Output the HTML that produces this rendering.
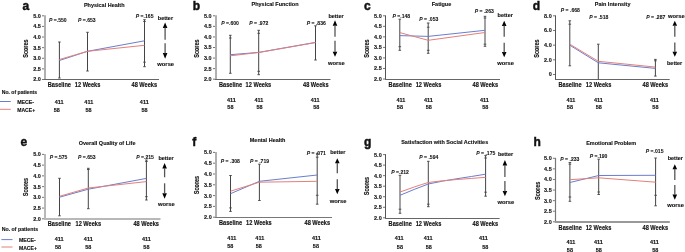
<!DOCTYPE html>
<html><head><meta charset="utf-8"><style>
html,body{margin:0;padding:0;background:#fff;width:685px;height:252px;overflow:hidden}
svg{display:block}
text{font-family:"Liberation Sans",sans-serif;fill:#111;stroke:#111;stroke-width:0.12px}
svg{will-change:transform}
</style></head><body>
<svg width="685" height="252" viewBox="0 0 685 252">
<rect width="685" height="252" fill="#fff"/>
<line x1="45.00" y1="15.30" x2="45.00" y2="80.00" stroke="#b0b0b0" stroke-width="2" />
<line x1="44.00" y1="79.50" x2="159.00" y2="79.50" stroke="#666" stroke-width="1" />
<line x1="42.00" y1="15.80" x2="44.00" y2="15.80" stroke="#666" stroke-width="0.9" />
<text transform="translate(40.90,17.70) scale(1,1.12)" font-size="5.5" text-anchor="end" font-weight="bold" font-style="normal" >5.0</text>
<line x1="42.00" y1="26.42" x2="44.00" y2="26.42" stroke="#666" stroke-width="0.9" />
<text transform="translate(40.90,28.32) scale(1,1.12)" font-size="5.5" text-anchor="end" font-weight="bold" font-style="normal" >4.5</text>
<line x1="42.00" y1="37.03" x2="44.00" y2="37.03" stroke="#666" stroke-width="0.9" />
<text transform="translate(40.90,38.93) scale(1,1.12)" font-size="5.5" text-anchor="end" font-weight="bold" font-style="normal" >4.0</text>
<line x1="42.00" y1="47.65" x2="44.00" y2="47.65" stroke="#666" stroke-width="0.9" />
<text transform="translate(40.90,49.55) scale(1,1.12)" font-size="5.5" text-anchor="end" font-weight="bold" font-style="normal" >3.5</text>
<line x1="42.00" y1="58.27" x2="44.00" y2="58.27" stroke="#666" stroke-width="0.9" />
<text transform="translate(40.90,60.17) scale(1,1.12)" font-size="5.5" text-anchor="end" font-weight="bold" font-style="normal" >3.0</text>
<line x1="42.00" y1="68.88" x2="44.00" y2="68.88" stroke="#666" stroke-width="0.9" />
<text transform="translate(40.90,70.78) scale(1,1.12)" font-size="5.5" text-anchor="end" font-weight="bold" font-style="normal" >2.5</text>
<line x1="42.00" y1="79.50" x2="44.00" y2="79.50" stroke="#666" stroke-width="0.9" />
<text transform="translate(40.90,81.40) scale(1,1.12)" font-size="5.5" text-anchor="end" font-weight="bold" font-style="normal" >2.0</text>
<text transform="translate(28.10,48.60) rotate(-90) scale(1,1.25)" font-size="5.5" text-anchor="middle" font-weight="bold" font-style="normal" >Scores</text>
<text transform="translate(104.20,7.40) scale(1,1.12)" font-size="5.5" text-anchor="middle" font-weight="bold" font-style="normal" >Physical Health</text>
<text transform="translate(22.50,9.80) scale(1,1.0)" font-size="12" text-anchor="start" font-weight="bold" font-style="normal" style="stroke-width:0.45px">a</text>
<line x1="59.40" y1="42.00" x2="59.40" y2="78.00" stroke="#444" stroke-width="1.0" />
<line x1="58.10" y1="42.00" x2="60.70" y2="42.00" stroke="#444" stroke-width="0.9" />
<line x1="58.10" y1="78.00" x2="60.70" y2="78.00" stroke="#444" stroke-width="0.9" />
<line x1="87.50" y1="32.30" x2="87.50" y2="71.00" stroke="#444" stroke-width="1.0" />
<line x1="86.20" y1="32.30" x2="88.80" y2="32.30" stroke="#444" stroke-width="0.9" />
<line x1="86.20" y1="71.00" x2="88.80" y2="71.00" stroke="#444" stroke-width="0.9" />
<line x1="144.50" y1="19.70" x2="144.50" y2="66.70" stroke="#444" stroke-width="1.0" />
<line x1="143.20" y1="19.70" x2="145.80" y2="19.70" stroke="#444" stroke-width="0.9" />
<line x1="143.20" y1="21.50" x2="145.80" y2="21.50" stroke="#444" stroke-width="0.9" />
<line x1="143.20" y1="62.20" x2="145.80" y2="62.20" stroke="#444" stroke-width="0.9" />
<line x1="143.20" y1="66.70" x2="145.80" y2="66.70" stroke="#444" stroke-width="0.9" />
<polyline points="59.40,60.50 87.50,51.30 144.50,40.80" fill="none" stroke="#6a7ecf" stroke-width="1.0" stroke-linejoin="round"/>
<polyline points="59.40,59.50 87.50,51.30 144.50,45.30" fill="none" stroke="#e4807a" stroke-width="1.0" stroke-linejoin="round"/>
<text transform="translate(49.00,22.10) scale(1,1.12)" font-size="5.1" text-anchor="start" font-weight="bold" font-style="normal" style="stroke-width:0.06px"><tspan font-style="italic">P</tspan> =.550</text>
<text transform="translate(78.00,22.30) scale(1,1.12)" font-size="5.1" text-anchor="start" font-weight="bold" font-style="normal" style="stroke-width:0.06px"><tspan font-style="italic">P</tspan> =.653</text>
<text transform="translate(135.80,18.10) scale(1,1.12)" font-size="5.1" text-anchor="start" font-weight="bold" font-style="normal" style="stroke-width:0.06px"><tspan font-style="italic">P</tspan> =.165</text>
<text transform="translate(47.80,86.90) scale(1,1.12)" font-size="5.65" text-anchor="start" font-weight="bold" font-style="normal" >Baseline</text>
<text transform="translate(74.80,86.90) scale(1,1.12)" font-size="5.65" text-anchor="start" font-weight="bold" font-style="normal" >12 Weeks</text>
<text transform="translate(131.50,86.90) scale(1,1.12)" font-size="5.65" text-anchor="start" font-weight="bold" font-style="normal" >48 Weeks</text>
<text transform="translate(59.20,103.50) scale(1,1.12)" font-size="5.5" text-anchor="middle" font-weight="bold" font-style="normal" >411</text>
<text transform="translate(56.70,111.50) scale(1,1.12)" font-size="5.5" text-anchor="middle" font-weight="bold" font-style="normal" >58</text>
<text transform="translate(88.80,103.50) scale(1,1.12)" font-size="5.5" text-anchor="middle" font-weight="bold" font-style="normal" >411</text>
<text transform="translate(88.50,111.50) scale(1,1.12)" font-size="5.5" text-anchor="middle" font-weight="bold" font-style="normal" >58</text>
<text transform="translate(144.30,103.50) scale(1,1.12)" font-size="5.5" text-anchor="middle" font-weight="bold" font-style="normal" >411</text>
<text transform="translate(144.50,111.50) scale(1,1.12)" font-size="5.5" text-anchor="middle" font-weight="bold" font-style="normal" >58</text>
<text transform="translate(165.40,20.00) scale(1,1.12)" font-size="5.5" text-anchor="middle" font-weight="bold" font-style="normal" >better</text>
<text transform="translate(165.70,65.90) scale(1,1.0)" font-size="5.8" text-anchor="middle" font-weight="bold" font-style="normal" >worse</text>
<path d="M162.80,27.90 L165.10,22.40 L167.40,27.90 Z" fill="#000"/>
<line x1="165.10" y1="27.40" x2="165.10" y2="39.80" stroke="#555" stroke-width="1.3" />
<path d="M162.80,52.90 L165.10,58.80 L167.40,52.90 Z" fill="#000"/>
<line x1="165.10" y1="43.30" x2="165.10" y2="53.40" stroke="#555" stroke-width="1.3" />
<line x1="216.00" y1="15.30" x2="216.00" y2="80.00" stroke="#b0b0b0" stroke-width="2" />
<line x1="215.00" y1="79.50" x2="330.50" y2="79.50" stroke="#666" stroke-width="1" />
<line x1="213.00" y1="15.80" x2="215.00" y2="15.80" stroke="#666" stroke-width="0.9" />
<text transform="translate(211.60,17.70) scale(1,1.12)" font-size="5.5" text-anchor="end" font-weight="bold" font-style="normal" >5.0</text>
<line x1="213.00" y1="26.37" x2="215.00" y2="26.37" stroke="#666" stroke-width="0.9" />
<text transform="translate(211.60,28.27) scale(1,1.12)" font-size="5.5" text-anchor="end" font-weight="bold" font-style="normal" >4.5</text>
<line x1="213.00" y1="36.93" x2="215.00" y2="36.93" stroke="#666" stroke-width="0.9" />
<text transform="translate(211.60,38.83) scale(1,1.12)" font-size="5.5" text-anchor="end" font-weight="bold" font-style="normal" >4.0</text>
<line x1="213.00" y1="47.50" x2="215.00" y2="47.50" stroke="#666" stroke-width="0.9" />
<text transform="translate(211.60,49.40) scale(1,1.12)" font-size="5.5" text-anchor="end" font-weight="bold" font-style="normal" >3.5</text>
<line x1="213.00" y1="58.07" x2="215.00" y2="58.07" stroke="#666" stroke-width="0.9" />
<text transform="translate(211.60,59.97) scale(1,1.12)" font-size="5.5" text-anchor="end" font-weight="bold" font-style="normal" >3.0</text>
<line x1="213.00" y1="68.63" x2="215.00" y2="68.63" stroke="#666" stroke-width="0.9" />
<text transform="translate(211.60,70.53) scale(1,1.12)" font-size="5.5" text-anchor="end" font-weight="bold" font-style="normal" >2.5</text>
<line x1="213.00" y1="79.20" x2="215.00" y2="79.20" stroke="#666" stroke-width="0.9" />
<text transform="translate(211.60,81.10) scale(1,1.12)" font-size="5.5" text-anchor="end" font-weight="bold" font-style="normal" >2.0</text>
<text transform="translate(198.80,48.60) rotate(-90) scale(1,1.25)" font-size="5.5" text-anchor="middle" font-weight="bold" font-style="normal" >Scores</text>
<text transform="translate(275.00,6.10) scale(1,1.12)" font-size="5.5" text-anchor="middle" font-weight="bold" font-style="normal" >Physical Function</text>
<text transform="translate(192.70,9.60) scale(1,1.0)" font-size="12" text-anchor="start" font-weight="bold" font-style="normal" style="stroke-width:0.45px">b</text>
<line x1="230.30" y1="35.30" x2="230.30" y2="73.30" stroke="#444" stroke-width="1.0" />
<line x1="229.00" y1="35.30" x2="231.60" y2="35.30" stroke="#444" stroke-width="0.9" />
<line x1="229.00" y1="38.00" x2="231.60" y2="38.00" stroke="#444" stroke-width="0.9" />
<line x1="229.00" y1="73.30" x2="231.60" y2="73.30" stroke="#444" stroke-width="0.9" />
<line x1="258.70" y1="30.30" x2="258.70" y2="74.70" stroke="#444" stroke-width="1.0" />
<line x1="257.40" y1="30.30" x2="260.00" y2="30.30" stroke="#444" stroke-width="0.9" />
<line x1="257.40" y1="33.30" x2="260.00" y2="33.30" stroke="#444" stroke-width="0.9" />
<line x1="257.40" y1="71.30" x2="260.00" y2="71.30" stroke="#444" stroke-width="0.9" />
<line x1="257.40" y1="74.70" x2="260.00" y2="74.70" stroke="#444" stroke-width="0.9" />
<line x1="315.50" y1="25.80" x2="315.50" y2="60.00" stroke="#444" stroke-width="1.0" />
<line x1="314.20" y1="25.80" x2="316.80" y2="25.80" stroke="#444" stroke-width="0.9" />
<line x1="314.20" y1="60.00" x2="316.80" y2="60.00" stroke="#444" stroke-width="0.9" />
<polyline points="230.30,54.70 258.70,52.40 315.50,42.40" fill="none" stroke="#6a7ecf" stroke-width="1.0" stroke-linejoin="round"/>
<polyline points="230.30,55.80 258.70,52.50 315.50,42.60" fill="none" stroke="#e4807a" stroke-width="1.0" stroke-linejoin="round"/>
<text transform="translate(221.20,25.10) scale(1,1.12)" font-size="5.1" text-anchor="start" font-weight="bold" font-style="normal" style="stroke-width:0.06px"><tspan font-style="italic">P</tspan> =.600</text>
<text transform="translate(249.20,25.10) scale(1,1.12)" font-size="5.1" text-anchor="start" font-weight="bold" font-style="normal" style="stroke-width:0.06px"><tspan font-style="italic">P</tspan> = .972</text>
<text transform="translate(306.70,25.10) scale(1,1.12)" font-size="5.1" text-anchor="start" font-weight="bold" font-style="normal" style="stroke-width:0.06px"><tspan font-style="italic">P</tspan> = .836</text>
<text transform="translate(219.00,86.90) scale(1,1.12)" font-size="5.65" text-anchor="start" font-weight="bold" font-style="normal" >Baseline</text>
<text transform="translate(245.60,86.90) scale(1,1.12)" font-size="5.65" text-anchor="start" font-weight="bold" font-style="normal" >12 Weeks</text>
<text transform="translate(303.00,86.90) scale(1,1.12)" font-size="5.65" text-anchor="start" font-weight="bold" font-style="normal" >48 Weeks</text>
<text transform="translate(231.40,101.50) scale(1,1.12)" font-size="5.5" text-anchor="middle" font-weight="bold" font-style="normal" >411</text>
<text transform="translate(230.40,109.30) scale(1,1.12)" font-size="5.5" text-anchor="middle" font-weight="bold" font-style="normal" >58</text>
<text transform="translate(259.00,101.50) scale(1,1.12)" font-size="5.5" text-anchor="middle" font-weight="bold" font-style="normal" >411</text>
<text transform="translate(259.50,109.30) scale(1,1.12)" font-size="5.5" text-anchor="middle" font-weight="bold" font-style="normal" >58</text>
<text transform="translate(315.10,101.50) scale(1,1.12)" font-size="5.5" text-anchor="middle" font-weight="bold" font-style="normal" >411</text>
<text transform="translate(316.30,109.30) scale(1,1.12)" font-size="5.5" text-anchor="middle" font-weight="bold" font-style="normal" >58</text>
<text transform="translate(336.00,17.70) scale(1,1.12)" font-size="5.5" text-anchor="middle" font-weight="bold" font-style="normal" >better</text>
<text transform="translate(336.30,64.80) scale(1,1.0)" font-size="5.8" text-anchor="middle" font-weight="bold" font-style="normal" >worse</text>
<path d="M332.70,25.80 L335.00,20.30 L337.30,25.80 Z" fill="#000"/>
<line x1="335.00" y1="25.30" x2="335.00" y2="36.70" stroke="#555" stroke-width="1.3" />
<path d="M332.70,51.70 L335.00,56.70 L337.30,51.70 Z" fill="#000"/>
<line x1="335.00" y1="40.80" x2="335.00" y2="52.20" stroke="#555" stroke-width="1.3" />
<line x1="385.50" y1="15.30" x2="385.50" y2="80.00" stroke="#555" stroke-width="1" />
<line x1="385.00" y1="79.50" x2="500.00" y2="79.50" stroke="#666" stroke-width="1" />
<line x1="383.00" y1="15.80" x2="385.00" y2="15.80" stroke="#666" stroke-width="0.9" />
<text transform="translate(381.70,17.70) scale(1,1.12)" font-size="5.5" text-anchor="end" font-weight="bold" font-style="normal" >5.0</text>
<line x1="383.00" y1="26.33" x2="385.00" y2="26.33" stroke="#666" stroke-width="0.9" />
<text transform="translate(381.70,28.23) scale(1,1.12)" font-size="5.5" text-anchor="end" font-weight="bold" font-style="normal" >4.5</text>
<line x1="383.00" y1="36.87" x2="385.00" y2="36.87" stroke="#666" stroke-width="0.9" />
<text transform="translate(381.70,38.77) scale(1,1.12)" font-size="5.5" text-anchor="end" font-weight="bold" font-style="normal" >4.0</text>
<line x1="383.00" y1="47.40" x2="385.00" y2="47.40" stroke="#666" stroke-width="0.9" />
<text transform="translate(381.70,49.30) scale(1,1.12)" font-size="5.5" text-anchor="end" font-weight="bold" font-style="normal" >3.5</text>
<line x1="383.00" y1="57.93" x2="385.00" y2="57.93" stroke="#666" stroke-width="0.9" />
<text transform="translate(381.70,59.83) scale(1,1.12)" font-size="5.5" text-anchor="end" font-weight="bold" font-style="normal" >3.0</text>
<line x1="383.00" y1="68.47" x2="385.00" y2="68.47" stroke="#666" stroke-width="0.9" />
<text transform="translate(381.70,70.37) scale(1,1.12)" font-size="5.5" text-anchor="end" font-weight="bold" font-style="normal" >2.5</text>
<line x1="383.00" y1="79.00" x2="385.00" y2="79.00" stroke="#666" stroke-width="0.9" />
<text transform="translate(381.70,80.90) scale(1,1.12)" font-size="5.5" text-anchor="end" font-weight="bold" font-style="normal" >2.0</text>
<text transform="translate(369.10,48.60) rotate(-90) scale(1,1.25)" font-size="5.5" text-anchor="middle" font-weight="bold" font-style="normal" >Scores</text>
<text transform="translate(441.50,6.10) scale(1,1.12)" font-size="5.5" text-anchor="middle" font-weight="bold" font-style="normal" >Fatigue</text>
<text transform="translate(363.90,9.60) scale(1,1.0)" font-size="12" text-anchor="start" font-weight="bold" font-style="normal" style="stroke-width:0.45px">c</text>
<line x1="399.80" y1="19.20" x2="399.80" y2="50.30" stroke="#444" stroke-width="1.0" />
<line x1="398.50" y1="19.20" x2="401.10" y2="19.20" stroke="#444" stroke-width="0.9" />
<line x1="398.50" y1="46.70" x2="401.10" y2="46.70" stroke="#444" stroke-width="0.9" />
<line x1="398.50" y1="50.30" x2="401.10" y2="50.30" stroke="#444" stroke-width="0.9" />
<line x1="428.20" y1="23.00" x2="428.20" y2="53.30" stroke="#444" stroke-width="1.0" />
<line x1="426.90" y1="23.00" x2="429.50" y2="23.00" stroke="#444" stroke-width="0.9" />
<line x1="426.90" y1="27.20" x2="429.50" y2="27.20" stroke="#444" stroke-width="0.9" />
<line x1="426.90" y1="50.30" x2="429.50" y2="50.30" stroke="#444" stroke-width="0.9" />
<line x1="426.90" y1="53.30" x2="429.50" y2="53.30" stroke="#444" stroke-width="0.9" />
<line x1="485.00" y1="16.30" x2="485.00" y2="46.30" stroke="#444" stroke-width="1.0" />
<line x1="483.70" y1="16.30" x2="486.30" y2="16.30" stroke="#444" stroke-width="0.9" />
<line x1="483.70" y1="18.00" x2="486.30" y2="18.00" stroke="#444" stroke-width="0.9" />
<line x1="483.70" y1="44.20" x2="486.30" y2="44.20" stroke="#444" stroke-width="0.9" />
<line x1="483.70" y1="46.30" x2="486.30" y2="46.30" stroke="#444" stroke-width="0.9" />
<polyline points="399.80,35.60 428.20,36.40 485.00,30.30" fill="none" stroke="#6a7ecf" stroke-width="1.0" stroke-linejoin="round"/>
<polyline points="399.80,32.60 428.20,40.30 485.00,32.50" fill="none" stroke="#e4807a" stroke-width="1.0" stroke-linejoin="round"/>
<text transform="translate(392.50,18.10) scale(1,1.12)" font-size="5.1" text-anchor="start" font-weight="bold" font-style="normal" style="stroke-width:0.06px"><tspan font-style="italic">P</tspan> =.148</text>
<text transform="translate(419.20,20.60) scale(1,1.12)" font-size="5.1" text-anchor="start" font-weight="bold" font-style="normal" style="stroke-width:0.06px"><tspan font-style="italic">P</tspan> = .053</text>
<text transform="translate(474.70,13.10) scale(1,1.12)" font-size="5.1" text-anchor="start" font-weight="bold" font-style="normal" style="stroke-width:0.06px"><tspan font-style="italic">P</tspan> = .263</text>
<text transform="translate(388.60,86.70) scale(1,1.12)" font-size="5.65" text-anchor="start" font-weight="bold" font-style="normal" >Baseline</text>
<text transform="translate(415.70,86.70) scale(1,1.12)" font-size="5.65" text-anchor="start" font-weight="bold" font-style="normal" >12 Weeks</text>
<text transform="translate(472.50,86.70) scale(1,1.12)" font-size="5.65" text-anchor="start" font-weight="bold" font-style="normal" >48 Weeks</text>
<text transform="translate(401.00,101.70) scale(1,1.12)" font-size="5.5" text-anchor="middle" font-weight="bold" font-style="normal" >411</text>
<text transform="translate(399.90,109.20) scale(1,1.12)" font-size="5.5" text-anchor="middle" font-weight="bold" font-style="normal" >58</text>
<text transform="translate(428.40,101.70) scale(1,1.12)" font-size="5.5" text-anchor="middle" font-weight="bold" font-style="normal" >411</text>
<text transform="translate(428.80,109.20) scale(1,1.12)" font-size="5.5" text-anchor="middle" font-weight="bold" font-style="normal" >58</text>
<text transform="translate(484.40,101.70) scale(1,1.12)" font-size="5.5" text-anchor="middle" font-weight="bold" font-style="normal" >411</text>
<text transform="translate(485.30,109.20) scale(1,1.12)" font-size="5.5" text-anchor="middle" font-weight="bold" font-style="normal" >58</text>
<text transform="translate(505.20,17.40) scale(1,1.12)" font-size="5.5" text-anchor="middle" font-weight="bold" font-style="normal" >better</text>
<text transform="translate(505.50,64.80) scale(1,1.0)" font-size="5.8" text-anchor="middle" font-weight="bold" font-style="normal" >worse</text>
<path d="M501.90,26.00 L504.20,20.70 L506.50,26.00 Z" fill="#000"/>
<line x1="504.20" y1="25.50" x2="504.20" y2="36.70" stroke="#555" stroke-width="1.3" />
<path d="M501.90,52.00 L504.20,57.30 L506.50,52.00 Z" fill="#000"/>
<line x1="504.20" y1="42.70" x2="504.20" y2="52.50" stroke="#555" stroke-width="1.3" />
<line x1="555.50" y1="15.30" x2="555.50" y2="80.00" stroke="#555" stroke-width="1" />
<line x1="555.00" y1="79.50" x2="669.70" y2="79.50" stroke="#666" stroke-width="1" />
<line x1="553.00" y1="15.80" x2="555.00" y2="15.80" stroke="#666" stroke-width="0.9" />
<text transform="translate(551.70,17.70) scale(1,1.12)" font-size="5.5" text-anchor="end" font-weight="bold" font-style="normal" >8.0</text>
<line x1="553.00" y1="30.47" x2="555.00" y2="30.47" stroke="#666" stroke-width="0.9" />
<text transform="translate(551.70,32.37) scale(1,1.12)" font-size="5.5" text-anchor="end" font-weight="bold" font-style="normal" >6.0</text>
<line x1="553.00" y1="45.15" x2="555.00" y2="45.15" stroke="#666" stroke-width="0.9" />
<text transform="translate(551.70,47.05) scale(1,1.12)" font-size="5.5" text-anchor="end" font-weight="bold" font-style="normal" >4.0</text>
<line x1="553.00" y1="59.83" x2="555.00" y2="59.83" stroke="#666" stroke-width="0.9" />
<text transform="translate(551.70,61.73) scale(1,1.12)" font-size="5.5" text-anchor="end" font-weight="bold" font-style="normal" >2.0</text>
<line x1="553.00" y1="74.50" x2="555.00" y2="74.50" stroke="#666" stroke-width="0.9" />
<text transform="translate(551.70,76.40) scale(1,1.12)" font-size="5.5" text-anchor="end" font-weight="bold" font-style="normal" >0</text>
<text transform="translate(539.40,48.60) rotate(-90) scale(1,1.25)" font-size="5.5" text-anchor="middle" font-weight="bold" font-style="normal" >Scores</text>
<text transform="translate(612.60,6.40) scale(1,1.12)" font-size="5.5" text-anchor="middle" font-weight="bold" font-style="normal" >Pain Intensity</text>
<text transform="translate(532.80,9.90) scale(1,1.0)" font-size="12" text-anchor="start" font-weight="bold" font-style="normal" style="stroke-width:0.45px">d</text>
<line x1="569.80" y1="20.80" x2="569.80" y2="65.80" stroke="#444" stroke-width="1.0" />
<line x1="568.50" y1="20.80" x2="571.10" y2="20.80" stroke="#444" stroke-width="0.9" />
<line x1="568.50" y1="24.20" x2="571.10" y2="24.20" stroke="#444" stroke-width="0.9" />
<line x1="568.50" y1="65.80" x2="571.10" y2="65.80" stroke="#444" stroke-width="0.9" />
<line x1="598.30" y1="44.20" x2="598.30" y2="79.50" stroke="#444" stroke-width="1.0" />
<line x1="597.00" y1="44.20" x2="599.60" y2="44.20" stroke="#444" stroke-width="0.9" />
<line x1="655.40" y1="59.40" x2="655.40" y2="76.10" stroke="#444" stroke-width="1.0" />
<line x1="654.10" y1="59.40" x2="656.70" y2="59.40" stroke="#444" stroke-width="0.9" />
<line x1="654.10" y1="60.80" x2="656.70" y2="60.80" stroke="#444" stroke-width="0.9" />
<line x1="654.10" y1="76.10" x2="656.70" y2="76.10" stroke="#444" stroke-width="0.9" />
<polyline points="569.80,45.20 598.30,62.80 655.40,68.40" fill="none" stroke="#6a7ecf" stroke-width="1.0" stroke-linejoin="round"/>
<polyline points="569.80,44.20 598.30,61.30 655.40,67.10" fill="none" stroke="#e4807a" stroke-width="1.0" stroke-linejoin="round"/>
<text transform="translate(560.80,12.30) scale(1,1.12)" font-size="5.1" text-anchor="start" font-weight="bold" font-style="normal" style="stroke-width:0.06px"><tspan font-style="italic">P</tspan> = .668</text>
<text transform="translate(589.20,18.50) scale(1,1.12)" font-size="5.1" text-anchor="start" font-weight="bold" font-style="normal" style="stroke-width:0.06px"><tspan font-style="italic">P</tspan> = .518</text>
<text transform="translate(646.20,18.50) scale(1,1.12)" font-size="5.1" text-anchor="start" font-weight="bold" font-style="normal" style="stroke-width:0.06px"><tspan font-style="italic">P</tspan> = .287</text>
<text transform="translate(558.50,86.70) scale(1,1.12)" font-size="5.65" text-anchor="start" font-weight="bold" font-style="normal" >Baseline</text>
<text transform="translate(585.80,86.70) scale(1,1.12)" font-size="5.65" text-anchor="start" font-weight="bold" font-style="normal" >12 Weeks</text>
<text transform="translate(642.50,86.70) scale(1,1.12)" font-size="5.65" text-anchor="start" font-weight="bold" font-style="normal" >48 Weeks</text>
<text transform="translate(571.00,101.60) scale(1,1.12)" font-size="5.5" text-anchor="middle" font-weight="bold" font-style="normal" >411</text>
<text transform="translate(569.90,109.30) scale(1,1.12)" font-size="5.5" text-anchor="middle" font-weight="bold" font-style="normal" >58</text>
<text transform="translate(598.40,101.60) scale(1,1.12)" font-size="5.5" text-anchor="middle" font-weight="bold" font-style="normal" >411</text>
<text transform="translate(598.80,109.30) scale(1,1.12)" font-size="5.5" text-anchor="middle" font-weight="bold" font-style="normal" >58</text>
<text transform="translate(654.40,101.60) scale(1,1.12)" font-size="5.5" text-anchor="middle" font-weight="bold" font-style="normal" >411</text>
<text transform="translate(655.40,109.30) scale(1,1.12)" font-size="5.5" text-anchor="middle" font-weight="bold" font-style="normal" >58</text>
<text transform="translate(676.30,17.80) scale(1,1.0)" font-size="5.8" text-anchor="middle" font-weight="bold" font-style="normal" >worse</text>
<text transform="translate(674.60,64.90) scale(1,1.12)" font-size="5.5" text-anchor="middle" font-weight="bold" font-style="normal" >better</text>
<path d="M672.50,25.80 L674.80,20.80 L677.10,25.80 Z" fill="#000"/>
<line x1="674.80" y1="25.30" x2="674.80" y2="36.70" stroke="#555" stroke-width="1.3" />
<path d="M672.50,51.70 L674.80,56.70 L677.10,51.70 Z" fill="#000"/>
<line x1="674.80" y1="42.50" x2="674.80" y2="52.20" stroke="#555" stroke-width="1.3" />
<line x1="45.00" y1="153.90" x2="45.00" y2="220.00" stroke="#b8b8b8" stroke-width="2" />
<line x1="44.00" y1="219.00" x2="160.50" y2="219.00" stroke="#b8b8b8" stroke-width="2" />
<line x1="42.00" y1="154.40" x2="44.00" y2="154.40" stroke="#666" stroke-width="0.9" />
<text transform="translate(40.80,156.30) scale(1,1.12)" font-size="5.5" text-anchor="end" font-weight="bold" font-style="normal" >5.0</text>
<line x1="42.00" y1="165.13" x2="44.00" y2="165.13" stroke="#666" stroke-width="0.9" />
<text transform="translate(40.80,167.03) scale(1,1.12)" font-size="5.5" text-anchor="end" font-weight="bold" font-style="normal" >4.5</text>
<line x1="42.00" y1="175.87" x2="44.00" y2="175.87" stroke="#666" stroke-width="0.9" />
<text transform="translate(40.80,177.77) scale(1,1.12)" font-size="5.5" text-anchor="end" font-weight="bold" font-style="normal" >4.0</text>
<line x1="42.00" y1="186.60" x2="44.00" y2="186.60" stroke="#666" stroke-width="0.9" />
<text transform="translate(40.80,188.50) scale(1,1.12)" font-size="5.5" text-anchor="end" font-weight="bold" font-style="normal" >3.5</text>
<line x1="42.00" y1="197.33" x2="44.00" y2="197.33" stroke="#666" stroke-width="0.9" />
<text transform="translate(40.80,199.23) scale(1,1.12)" font-size="5.5" text-anchor="end" font-weight="bold" font-style="normal" >3.0</text>
<line x1="42.00" y1="208.07" x2="44.00" y2="208.07" stroke="#666" stroke-width="0.9" />
<text transform="translate(40.80,209.97) scale(1,1.12)" font-size="5.5" text-anchor="end" font-weight="bold" font-style="normal" >2.5</text>
<line x1="42.00" y1="218.80" x2="44.00" y2="218.80" stroke="#666" stroke-width="0.9" />
<text transform="translate(40.80,220.70) scale(1,1.12)" font-size="5.5" text-anchor="end" font-weight="bold" font-style="normal" >2.0</text>
<text transform="translate(28.10,187.00) rotate(-90) scale(1,1.25)" font-size="5.5" text-anchor="middle" font-weight="bold" font-style="normal" >Scores</text>
<text transform="translate(107.10,144.50) scale(1,1.12)" font-size="5.5" text-anchor="middle" font-weight="bold" font-style="normal" >Overall Quality of Life</text>
<text transform="translate(20.40,145.80) scale(1,1.0)" font-size="12" text-anchor="start" font-weight="bold" font-style="normal" style="stroke-width:0.45px">e</text>
<line x1="59.50" y1="178.30" x2="59.50" y2="215.80" stroke="#444" stroke-width="1.0" />
<line x1="58.20" y1="178.30" x2="60.80" y2="178.30" stroke="#444" stroke-width="0.9" />
<line x1="58.20" y1="215.80" x2="60.80" y2="215.80" stroke="#444" stroke-width="0.9" />
<line x1="88.30" y1="168.30" x2="88.30" y2="208.70" stroke="#444" stroke-width="1.0" />
<line x1="87.00" y1="168.30" x2="89.60" y2="168.30" stroke="#444" stroke-width="0.9" />
<line x1="87.00" y1="169.50" x2="89.60" y2="169.50" stroke="#444" stroke-width="0.9" />
<line x1="87.00" y1="208.70" x2="89.60" y2="208.70" stroke="#444" stroke-width="0.9" />
<line x1="146.40" y1="160.00" x2="146.40" y2="200.00" stroke="#444" stroke-width="1.0" />
<line x1="145.10" y1="160.00" x2="147.70" y2="160.00" stroke="#444" stroke-width="0.9" />
<line x1="145.10" y1="161.50" x2="147.70" y2="161.50" stroke="#444" stroke-width="0.9" />
<line x1="145.10" y1="196.70" x2="147.70" y2="196.70" stroke="#444" stroke-width="0.9" />
<line x1="145.10" y1="200.00" x2="147.70" y2="200.00" stroke="#444" stroke-width="0.9" />
<polyline points="59.50,197.20 88.30,189.20 146.40,178.40" fill="none" stroke="#6a7ecf" stroke-width="1.0" stroke-linejoin="round"/>
<polyline points="59.50,196.30 88.30,188.00 146.40,181.60" fill="none" stroke="#e4807a" stroke-width="1.0" stroke-linejoin="round"/>
<text transform="translate(49.70,159.30) scale(1,1.12)" font-size="5.1" text-anchor="start" font-weight="bold" font-style="normal" style="stroke-width:0.06px"><tspan font-style="italic">P</tspan> =.575</text>
<text transform="translate(78.00,159.30) scale(1,1.12)" font-size="5.1" text-anchor="start" font-weight="bold" font-style="normal" style="stroke-width:0.06px"><tspan font-style="italic">P</tspan> =.653</text>
<text transform="translate(136.20,159.00) scale(1,1.12)" font-size="5.1" text-anchor="start" font-weight="bold" font-style="normal" style="stroke-width:0.06px"><tspan font-style="italic">P</tspan> =.215</text>
<text transform="translate(47.80,226.20) scale(1,1.12)" font-size="5.65" text-anchor="start" font-weight="bold" font-style="normal" >Baseline</text>
<text transform="translate(75.50,226.20) scale(1,1.12)" font-size="5.65" text-anchor="start" font-weight="bold" font-style="normal" >12 Weeks</text>
<text transform="translate(133.40,226.20) scale(1,1.12)" font-size="5.65" text-anchor="start" font-weight="bold" font-style="normal" >48 Weeks</text>
<text transform="translate(59.20,241.40) scale(1,1.12)" font-size="5.5" text-anchor="middle" font-weight="bold" font-style="normal" >411</text>
<text transform="translate(58.00,249.40) scale(1,1.12)" font-size="5.5" text-anchor="middle" font-weight="bold" font-style="normal" >58</text>
<text transform="translate(88.30,241.40) scale(1,1.12)" font-size="5.5" text-anchor="middle" font-weight="bold" font-style="normal" >411</text>
<text transform="translate(88.30,249.40) scale(1,1.12)" font-size="5.5" text-anchor="middle" font-weight="bold" font-style="normal" >58</text>
<text transform="translate(146.40,241.40) scale(1,1.12)" font-size="5.5" text-anchor="middle" font-weight="bold" font-style="normal" >411</text>
<text transform="translate(146.40,249.40) scale(1,1.12)" font-size="5.5" text-anchor="middle" font-weight="bold" font-style="normal" >58</text>
<text transform="translate(166.00,159.70) scale(1,1.12)" font-size="5.5" text-anchor="middle" font-weight="bold" font-style="normal" >better</text>
<text transform="translate(166.30,206.40) scale(1,1.0)" font-size="5.8" text-anchor="middle" font-weight="bold" font-style="normal" >worse</text>
<path d="M162.30,168.40 L164.60,162.90 L166.90,168.40 Z" fill="#000"/>
<line x1="164.60" y1="167.90" x2="164.60" y2="177.30" stroke="#555" stroke-width="1.3" />
<path d="M162.30,193.20 L164.60,198.70 L166.90,193.20 Z" fill="#000"/>
<line x1="164.60" y1="183.30" x2="164.60" y2="193.70" stroke="#555" stroke-width="1.3" />
<line x1="216.00" y1="151.90" x2="216.00" y2="218.00" stroke="#b0b0b0" stroke-width="2" />
<line x1="215.00" y1="217.50" x2="332.00" y2="217.50" stroke="#777" stroke-width="1" />
<line x1="213.00" y1="152.40" x2="215.00" y2="152.40" stroke="#666" stroke-width="0.9" />
<text transform="translate(211.70,154.30) scale(1,1.12)" font-size="5.5" text-anchor="end" font-weight="bold" font-style="normal" >5.0</text>
<line x1="213.00" y1="163.20" x2="215.00" y2="163.20" stroke="#666" stroke-width="0.9" />
<text transform="translate(211.70,165.10) scale(1,1.12)" font-size="5.5" text-anchor="end" font-weight="bold" font-style="normal" >4.5</text>
<line x1="213.00" y1="174.00" x2="215.00" y2="174.00" stroke="#666" stroke-width="0.9" />
<text transform="translate(211.70,175.90) scale(1,1.12)" font-size="5.5" text-anchor="end" font-weight="bold" font-style="normal" >4.0</text>
<line x1="213.00" y1="184.80" x2="215.00" y2="184.80" stroke="#666" stroke-width="0.9" />
<text transform="translate(211.70,186.70) scale(1,1.12)" font-size="5.5" text-anchor="end" font-weight="bold" font-style="normal" >3.5</text>
<line x1="213.00" y1="195.60" x2="215.00" y2="195.60" stroke="#666" stroke-width="0.9" />
<text transform="translate(211.70,197.50) scale(1,1.12)" font-size="5.5" text-anchor="end" font-weight="bold" font-style="normal" >3.0</text>
<line x1="213.00" y1="206.40" x2="215.00" y2="206.40" stroke="#666" stroke-width="0.9" />
<text transform="translate(211.70,208.30) scale(1,1.12)" font-size="5.5" text-anchor="end" font-weight="bold" font-style="normal" >2.5</text>
<line x1="213.00" y1="217.20" x2="215.00" y2="217.20" stroke="#666" stroke-width="0.9" />
<text transform="translate(211.70,219.10) scale(1,1.12)" font-size="5.5" text-anchor="end" font-weight="bold" font-style="normal" >2.0</text>
<text transform="translate(198.90,185.00) rotate(-90) scale(1,1.25)" font-size="5.5" text-anchor="middle" font-weight="bold" font-style="normal" >Scores</text>
<text transform="translate(267.60,141.70) scale(1,1.12)" font-size="5.5" text-anchor="middle" font-weight="bold" font-style="normal" >Mental Health</text>
<text transform="translate(192.30,145.60) scale(1,1.0)" font-size="12" text-anchor="start" font-weight="bold" font-style="normal" style="stroke-width:0.45px">f</text>
<line x1="230.50" y1="175.50" x2="230.50" y2="211.40" stroke="#444" stroke-width="1.0" />
<line x1="229.20" y1="175.50" x2="231.80" y2="175.50" stroke="#444" stroke-width="0.9" />
<line x1="229.20" y1="207.90" x2="231.80" y2="207.90" stroke="#444" stroke-width="0.9" />
<line x1="229.20" y1="211.40" x2="231.80" y2="211.40" stroke="#444" stroke-width="0.9" />
<line x1="259.40" y1="164.20" x2="259.40" y2="200.50" stroke="#444" stroke-width="1.0" />
<line x1="258.10" y1="164.20" x2="260.70" y2="164.20" stroke="#444" stroke-width="0.9" />
<line x1="258.10" y1="200.50" x2="260.70" y2="200.50" stroke="#444" stroke-width="0.9" />
<line x1="317.20" y1="153.30" x2="317.20" y2="204.20" stroke="#444" stroke-width="1.0" />
<line x1="315.90" y1="153.30" x2="318.50" y2="153.30" stroke="#444" stroke-width="0.9" />
<line x1="315.90" y1="157.20" x2="318.50" y2="157.20" stroke="#444" stroke-width="0.9" />
<line x1="315.90" y1="195.30" x2="318.50" y2="195.30" stroke="#444" stroke-width="0.9" />
<line x1="315.90" y1="204.20" x2="318.50" y2="204.20" stroke="#444" stroke-width="0.9" />
<polyline points="230.50,193.70 259.40,181.30 317.20,175.00" fill="none" stroke="#6a7ecf" stroke-width="1.0" stroke-linejoin="round"/>
<polyline points="230.50,191.20 259.40,182.20 317.20,181.30" fill="none" stroke="#e4807a" stroke-width="1.0" stroke-linejoin="round"/>
<text transform="translate(220.80,162.60) scale(1,1.12)" font-size="5.1" text-anchor="start" font-weight="bold" font-style="normal" style="stroke-width:0.06px"><tspan font-style="italic">P</tspan> = .308</text>
<text transform="translate(250.00,162.50) scale(1,1.12)" font-size="5.1" text-anchor="start" font-weight="bold" font-style="normal" style="stroke-width:0.06px"><tspan font-style="italic">P</tspan> = .719</text>
<text transform="translate(306.70,154.70) scale(1,1.12)" font-size="5.1" text-anchor="start" font-weight="bold" font-style="normal" style="stroke-width:0.06px"><tspan font-style="italic">P</tspan> = .071</text>
<text transform="translate(219.00,224.70) scale(1,1.12)" font-size="5.65" text-anchor="start" font-weight="bold" font-style="normal" >Baseline</text>
<text transform="translate(246.10,224.70) scale(1,1.12)" font-size="5.65" text-anchor="start" font-weight="bold" font-style="normal" >12 Weeks</text>
<text transform="translate(304.50,224.70) scale(1,1.12)" font-size="5.65" text-anchor="start" font-weight="bold" font-style="normal" >48 Weeks</text>
<text transform="translate(231.80,239.70) scale(1,1.12)" font-size="5.5" text-anchor="middle" font-weight="bold" font-style="normal" >411</text>
<text transform="translate(230.30,248.10) scale(1,1.12)" font-size="5.5" text-anchor="middle" font-weight="bold" font-style="normal" >58</text>
<text transform="translate(259.80,239.70) scale(1,1.12)" font-size="5.5" text-anchor="middle" font-weight="bold" font-style="normal" >411</text>
<text transform="translate(258.80,248.10) scale(1,1.12)" font-size="5.5" text-anchor="middle" font-weight="bold" font-style="normal" >58</text>
<text transform="translate(316.50,239.70) scale(1,1.12)" font-size="5.5" text-anchor="middle" font-weight="bold" font-style="normal" >411</text>
<text transform="translate(315.90,248.10) scale(1,1.12)" font-size="5.5" text-anchor="middle" font-weight="bold" font-style="normal" >58</text>
<text transform="translate(337.80,154.40) scale(1,1.12)" font-size="5.5" text-anchor="middle" font-weight="bold" font-style="normal" >better</text>
<text transform="translate(338.10,202.50) scale(1,1.0)" font-size="5.8" text-anchor="middle" font-weight="bold" font-style="normal" >worse</text>
<path d="M335.00,163.30 L337.30,158.30 L339.60,163.30 Z" fill="#000"/>
<line x1="337.30" y1="162.80" x2="337.30" y2="173.30" stroke="#555" stroke-width="1.3" />
<path d="M335.00,189.00 L337.30,194.20 L339.60,189.00 Z" fill="#000"/>
<line x1="337.30" y1="179.20" x2="337.30" y2="189.50" stroke="#555" stroke-width="1.3" />
<line x1="385.50" y1="154.10" x2="385.50" y2="219.00" stroke="#555" stroke-width="1" />
<line x1="385.00" y1="218.50" x2="499.60" y2="218.50" stroke="#666" stroke-width="1" />
<line x1="383.00" y1="154.60" x2="385.00" y2="154.60" stroke="#666" stroke-width="0.9" />
<text transform="translate(381.70,156.50) scale(1,1.12)" font-size="5.5" text-anchor="end" font-weight="bold" font-style="normal" >5.0</text>
<line x1="383.00" y1="165.13" x2="385.00" y2="165.13" stroke="#666" stroke-width="0.9" />
<text transform="translate(381.70,167.03) scale(1,1.12)" font-size="5.5" text-anchor="end" font-weight="bold" font-style="normal" >4.5</text>
<line x1="383.00" y1="175.67" x2="385.00" y2="175.67" stroke="#666" stroke-width="0.9" />
<text transform="translate(381.70,177.57) scale(1,1.12)" font-size="5.5" text-anchor="end" font-weight="bold" font-style="normal" >4.0</text>
<line x1="383.00" y1="186.20" x2="385.00" y2="186.20" stroke="#666" stroke-width="0.9" />
<text transform="translate(381.70,188.10) scale(1,1.12)" font-size="5.5" text-anchor="end" font-weight="bold" font-style="normal" >3.5</text>
<line x1="383.00" y1="196.73" x2="385.00" y2="196.73" stroke="#666" stroke-width="0.9" />
<text transform="translate(381.70,198.63) scale(1,1.12)" font-size="5.5" text-anchor="end" font-weight="bold" font-style="normal" >3.0</text>
<line x1="383.00" y1="207.27" x2="385.00" y2="207.27" stroke="#666" stroke-width="0.9" />
<text transform="translate(381.70,209.17) scale(1,1.12)" font-size="5.5" text-anchor="end" font-weight="bold" font-style="normal" >2.5</text>
<line x1="383.00" y1="217.80" x2="385.00" y2="217.80" stroke="#666" stroke-width="0.9" />
<text transform="translate(381.70,219.70) scale(1,1.12)" font-size="5.5" text-anchor="end" font-weight="bold" font-style="normal" >2.0</text>
<text transform="translate(369.10,186.00) rotate(-90) scale(1,1.25)" font-size="5.5" text-anchor="middle" font-weight="bold" font-style="normal" >Scores</text>
<text transform="translate(444.70,144.30) scale(1,1.12)" font-size="5.5" text-anchor="middle" font-weight="bold" font-style="normal" >Satisfaction with Social Activities</text>
<text transform="translate(364.10,145.70) scale(1,1.0)" font-size="12" text-anchor="start" font-weight="bold" font-style="normal" style="stroke-width:0.45px">g</text>
<line x1="400.00" y1="175.30" x2="400.00" y2="213.30" stroke="#444" stroke-width="1.0" />
<line x1="398.70" y1="175.30" x2="401.30" y2="175.30" stroke="#444" stroke-width="0.9" />
<line x1="398.70" y1="209.20" x2="401.30" y2="209.20" stroke="#444" stroke-width="0.9" />
<line x1="398.70" y1="213.30" x2="401.30" y2="213.30" stroke="#444" stroke-width="0.9" />
<line x1="428.30" y1="161.30" x2="428.30" y2="206.70" stroke="#444" stroke-width="1.0" />
<line x1="427.00" y1="161.30" x2="429.60" y2="161.30" stroke="#444" stroke-width="0.9" />
<line x1="427.00" y1="204.20" x2="429.60" y2="204.20" stroke="#444" stroke-width="0.9" />
<line x1="427.00" y1="206.70" x2="429.60" y2="206.70" stroke="#444" stroke-width="0.9" />
<line x1="485.60" y1="155.60" x2="485.60" y2="196.20" stroke="#444" stroke-width="1.0" />
<line x1="484.30" y1="155.60" x2="486.90" y2="155.60" stroke="#444" stroke-width="0.9" />
<line x1="484.30" y1="158.00" x2="486.90" y2="158.00" stroke="#444" stroke-width="0.9" />
<line x1="484.30" y1="192.20" x2="486.90" y2="192.20" stroke="#444" stroke-width="0.9" />
<line x1="484.30" y1="196.20" x2="486.90" y2="196.20" stroke="#444" stroke-width="0.9" />
<path d="M400.00,195.30 C409.43,191.53 418.87,187.28 428.30,184.00 C447.40,179.75 466.50,177.47 485.60,174.20" fill="none" stroke="#6a7ecf" stroke-width="1.0"/>
<path d="M400.00,192.00 C409.43,188.83 418.87,185.15 428.30,182.50 C447.40,179.71 466.50,179.03 485.60,177.30" fill="none" stroke="#e4807a" stroke-width="1.0"/>
<text transform="translate(391.20,174.00) scale(1,1.12)" font-size="5.1" text-anchor="start" font-weight="bold" font-style="normal" style="stroke-width:0.06px"><tspan font-style="italic">P</tspan> =.212</text>
<text transform="translate(419.20,158.60) scale(1,1.12)" font-size="5.1" text-anchor="start" font-weight="bold" font-style="normal" style="stroke-width:0.06px"><tspan font-style="italic">P</tspan> = .594</text>
<text transform="translate(476.20,154.50) scale(1,1.12)" font-size="5.1" text-anchor="start" font-weight="bold" font-style="normal" style="stroke-width:0.06px"><tspan font-style="italic">P</tspan> = .175</text>
<text transform="translate(388.60,225.60) scale(1,1.12)" font-size="5.65" text-anchor="start" font-weight="bold" font-style="normal" >Baseline</text>
<text transform="translate(415.70,225.60) scale(1,1.12)" font-size="5.65" text-anchor="start" font-weight="bold" font-style="normal" >12 Weeks</text>
<text transform="translate(472.50,225.60) scale(1,1.12)" font-size="5.65" text-anchor="start" font-weight="bold" font-style="normal" >48 Weeks</text>
<text transform="translate(399.20,240.00) scale(1,1.12)" font-size="5.5" text-anchor="middle" font-weight="bold" font-style="normal" >411</text>
<text transform="translate(399.90,248.70) scale(1,1.12)" font-size="5.5" text-anchor="middle" font-weight="bold" font-style="normal" >58</text>
<text transform="translate(428.10,240.00) scale(1,1.12)" font-size="5.5" text-anchor="middle" font-weight="bold" font-style="normal" >411</text>
<text transform="translate(428.80,248.70) scale(1,1.12)" font-size="5.5" text-anchor="middle" font-weight="bold" font-style="normal" >58</text>
<text transform="translate(483.50,240.00) scale(1,1.12)" font-size="5.5" text-anchor="middle" font-weight="bold" font-style="normal" >411</text>
<text transform="translate(485.20,248.70) scale(1,1.12)" font-size="5.5" text-anchor="middle" font-weight="bold" font-style="normal" >58</text>
<text transform="translate(505.50,156.20) scale(1,1.12)" font-size="5.5" text-anchor="middle" font-weight="bold" font-style="normal" >better</text>
<text transform="translate(505.80,203.80) scale(1,1.0)" font-size="5.8" text-anchor="middle" font-weight="bold" font-style="normal" >worse</text>
<path d="M502.60,165.50 L504.90,160.00 L507.20,165.50 Z" fill="#000"/>
<line x1="504.90" y1="165.00" x2="504.90" y2="177.00" stroke="#555" stroke-width="1.3" />
<path d="M502.60,191.00 L504.90,196.30 L507.20,191.00 Z" fill="#000"/>
<line x1="504.90" y1="181.00" x2="504.90" y2="191.50" stroke="#555" stroke-width="1.3" />
<line x1="555.50" y1="157.80" x2="555.50" y2="223.00" stroke="#777" stroke-width="1.2" />
<line x1="554.90" y1="222.00" x2="669.80" y2="222.00" stroke="#999" stroke-width="2" />
<line x1="552.90" y1="158.30" x2="554.90" y2="158.30" stroke="#666" stroke-width="0.9" />
<text transform="translate(551.70,160.20) scale(1,1.12)" font-size="5.5" text-anchor="end" font-weight="bold" font-style="normal" >5.0</text>
<line x1="552.90" y1="168.88" x2="554.90" y2="168.88" stroke="#666" stroke-width="0.9" />
<text transform="translate(551.70,170.78) scale(1,1.12)" font-size="5.5" text-anchor="end" font-weight="bold" font-style="normal" >4.5</text>
<line x1="552.90" y1="179.47" x2="554.90" y2="179.47" stroke="#666" stroke-width="0.9" />
<text transform="translate(551.70,181.37) scale(1,1.12)" font-size="5.5" text-anchor="end" font-weight="bold" font-style="normal" >4.0</text>
<line x1="552.90" y1="190.05" x2="554.90" y2="190.05" stroke="#666" stroke-width="0.9" />
<text transform="translate(551.70,191.95) scale(1,1.12)" font-size="5.5" text-anchor="end" font-weight="bold" font-style="normal" >3.5</text>
<line x1="552.90" y1="200.63" x2="554.90" y2="200.63" stroke="#666" stroke-width="0.9" />
<text transform="translate(551.70,202.53) scale(1,1.12)" font-size="5.5" text-anchor="end" font-weight="bold" font-style="normal" >3.0</text>
<line x1="552.90" y1="211.22" x2="554.90" y2="211.22" stroke="#666" stroke-width="0.9" />
<text transform="translate(551.70,213.12) scale(1,1.12)" font-size="5.5" text-anchor="end" font-weight="bold" font-style="normal" >2.5</text>
<line x1="552.90" y1="221.80" x2="554.90" y2="221.80" stroke="#666" stroke-width="0.9" />
<text transform="translate(551.70,223.70) scale(1,1.12)" font-size="5.5" text-anchor="end" font-weight="bold" font-style="normal" >2.0</text>
<text transform="translate(539.80,190.80) rotate(-90) scale(1,1.25)" font-size="5.5" text-anchor="middle" font-weight="bold" font-style="normal" >Scores</text>
<text transform="translate(611.20,145.40) scale(1,1.12)" font-size="5.5" text-anchor="middle" font-weight="bold" font-style="normal" >Emotional Problem</text>
<text transform="translate(533.40,146.00) scale(1,1.0)" font-size="12" text-anchor="start" font-weight="bold" font-style="normal" style="stroke-width:0.45px">h</text>
<line x1="569.90" y1="162.50" x2="569.90" y2="201.30" stroke="#444" stroke-width="1.0" />
<line x1="568.60" y1="162.50" x2="571.20" y2="162.50" stroke="#444" stroke-width="0.9" />
<line x1="568.60" y1="164.20" x2="571.20" y2="164.20" stroke="#444" stroke-width="0.9" />
<line x1="568.60" y1="197.00" x2="571.20" y2="197.00" stroke="#444" stroke-width="0.9" />
<line x1="568.60" y1="201.30" x2="571.20" y2="201.30" stroke="#444" stroke-width="0.9" />
<line x1="598.70" y1="159.20" x2="598.70" y2="194.50" stroke="#444" stroke-width="1.0" />
<line x1="597.40" y1="159.20" x2="600.00" y2="159.20" stroke="#444" stroke-width="0.9" />
<line x1="597.40" y1="192.00" x2="600.00" y2="192.00" stroke="#444" stroke-width="0.9" />
<line x1="597.40" y1="194.50" x2="600.00" y2="194.50" stroke="#444" stroke-width="0.9" />
<line x1="655.60" y1="158.00" x2="655.60" y2="205.80" stroke="#444" stroke-width="1.0" />
<line x1="654.30" y1="158.00" x2="656.90" y2="158.00" stroke="#444" stroke-width="0.9" />
<line x1="654.30" y1="195.30" x2="656.90" y2="195.30" stroke="#444" stroke-width="0.9" />
<line x1="654.30" y1="205.80" x2="656.90" y2="205.80" stroke="#444" stroke-width="0.9" />
<polyline points="569.90,182.50 598.70,175.50 655.60,175.30" fill="none" stroke="#6a7ecf" stroke-width="1.0" stroke-linejoin="round"/>
<polyline points="569.90,179.70 598.70,177.80 655.60,182.20" fill="none" stroke="#e4807a" stroke-width="1.0" stroke-linejoin="round"/>
<text transform="translate(560.30,160.60) scale(1,1.12)" font-size="5.1" text-anchor="start" font-weight="bold" font-style="normal" style="stroke-width:0.06px"><tspan font-style="italic">P</tspan> = .233</text>
<text transform="translate(589.70,157.90) scale(1,1.12)" font-size="5.1" text-anchor="start" font-weight="bold" font-style="normal" style="stroke-width:0.06px"><tspan font-style="italic">P</tspan> =.190</text>
<text transform="translate(645.80,153.10) scale(1,1.12)" font-size="5.1" text-anchor="start" font-weight="bold" font-style="normal" style="stroke-width:0.06px"><tspan font-style="italic">P</tspan> =.015</text>
<text transform="translate(558.60,230.10) scale(1,1.12)" font-size="5.65" text-anchor="start" font-weight="bold" font-style="normal" >Baseline</text>
<text transform="translate(585.70,230.10) scale(1,1.12)" font-size="5.65" text-anchor="start" font-weight="bold" font-style="normal" >12 Weeks</text>
<text transform="translate(642.50,230.10) scale(1,1.12)" font-size="5.65" text-anchor="start" font-weight="bold" font-style="normal" >48 Weeks</text>
<text transform="translate(571.00,244.20) scale(1,1.12)" font-size="5.5" text-anchor="middle" font-weight="bold" font-style="normal" >411</text>
<text transform="translate(569.90,252.10) scale(1,1.12)" font-size="5.5" text-anchor="middle" font-weight="bold" font-style="normal" >58</text>
<text transform="translate(598.40,244.20) scale(1,1.12)" font-size="5.5" text-anchor="middle" font-weight="bold" font-style="normal" >411</text>
<text transform="translate(598.80,252.10) scale(1,1.12)" font-size="5.5" text-anchor="middle" font-weight="bold" font-style="normal" >58</text>
<text transform="translate(654.40,244.20) scale(1,1.12)" font-size="5.5" text-anchor="middle" font-weight="bold" font-style="normal" >411</text>
<text transform="translate(655.30,252.10) scale(1,1.12)" font-size="5.5" text-anchor="middle" font-weight="bold" font-style="normal" >58</text>
<text transform="translate(675.30,160.20) scale(1,1.12)" font-size="5.5" text-anchor="middle" font-weight="bold" font-style="normal" >better</text>
<text transform="translate(675.60,207.30) scale(1,1.0)" font-size="5.8" text-anchor="middle" font-weight="bold" font-style="normal" >worse</text>
<path d="M672.50,169.20 L674.80,164.20 L677.10,169.20 Z" fill="#000"/>
<line x1="674.80" y1="168.70" x2="674.80" y2="180.00" stroke="#555" stroke-width="1.3" />
<path d="M672.50,194.50 L674.80,199.80 L677.10,194.50 Z" fill="#000"/>
<line x1="674.80" y1="185.00" x2="674.80" y2="195.00" stroke="#555" stroke-width="1.3" />
<text transform="translate(1.70,94.10) scale(1,1.12)" font-size="5.1" text-anchor="start" font-weight="bold" font-style="normal" >No. of patients</text>
<line x1="0.00" y1="101.50" x2="10.80" y2="101.50" stroke="#6a7ecf" stroke-width="1.0" />
<line x1="0.00" y1="109.30" x2="10.80" y2="109.30" stroke="#e4807a" stroke-width="1.0" />
<text transform="translate(17.20,104.00) scale(1,1.12)" font-size="5.25" text-anchor="start" font-weight="bold" font-style="normal" >MECE-</text>
<text transform="translate(17.20,111.80) scale(1,1.12)" font-size="5.1" text-anchor="start" font-weight="bold" font-style="normal" >MACE+</text>
<text transform="translate(1.70,231.40) scale(1,1.12)" font-size="5.25" text-anchor="start" font-weight="bold" font-style="normal" >No. of patients</text>
<line x1="1.40" y1="239.60" x2="12.50" y2="239.60" stroke="#6a7ecf" stroke-width="1.0" />
<line x1="1.40" y1="247.00" x2="12.50" y2="247.00" stroke="#e4807a" stroke-width="1.0" />
<text transform="translate(18.90,242.10) scale(1,1.12)" font-size="5.25" text-anchor="start" font-weight="bold" font-style="normal" >MECE-</text>
<text transform="translate(18.90,249.50) scale(1,1.12)" font-size="5.1" text-anchor="start" font-weight="bold" font-style="normal" >MACE+</text>
</svg></body></html>
